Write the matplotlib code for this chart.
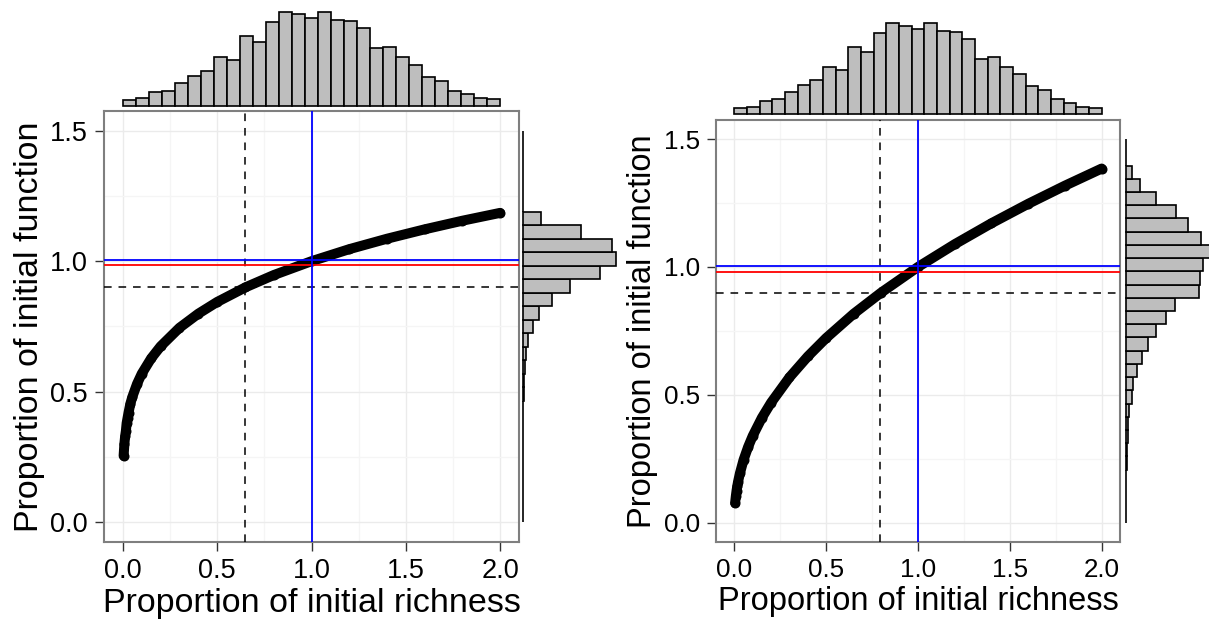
import numpy as np
import matplotlib
matplotlib.use("Agg")
import matplotlib.pyplot as plt

plt.rcParams["font.family"] = ["Liberation Sans", "DejaVu Sans"]

# curve (proportion of richness -> proportion of function)
richness_left = [0.004, 0.008, 0.012, 0.016, 0.02, 0.025, 0.03, 0.04, 0.05, 0.075, 0.1,
                 0.15, 0.2, 0.3, 0.4, 0.5, 0.65, 0.8, 1.0, 1.2, 1.4, 1.6, 1.8, 2.0]
function_left = [0.255, 0.30, 0.33, 0.35, 0.38, 0.40, 0.42, 0.455, 0.48, 0.53, 0.569,
                 0.628, 0.674, 0.745, 0.799, 0.844, 0.900, 0.947, 1.0, 1.046, 1.086, 1.122, 1.155, 1.185]

richness_right = [0.004, 0.008, 0.012, 0.016, 0.02, 0.03, 0.05, 0.075, 0.1, 0.15, 0.2,
                  0.3, 0.4, 0.5, 0.65, 0.8, 1.0, 1.2, 1.4, 1.6, 1.8, 2.0]
function_right = [0.076, 0.103, 0.125, 0.143, 0.159, 0.192, 0.245, 0.296, 0.339, 0.410, 0.469,
                  0.568, 0.650, 0.722, 0.817, 0.900, 1.0, 1.089, 1.171, 1.247, 1.318, 1.385]

# marginal histogram counts (29 bins)
richness_counts = [18, 23, 41, 46, 70, 90, 106, 146, 138, 208, 192, 250, 281, 274, 262,
                   281, 258, 253, 233, 172, 176, 147, 123, 88, 76, 46, 35, 23, 20]
function_counts_left = [0, 0, 0, 0, 0, 1, 1, 2, 2, 3, 4, 6, 10, 15, 30, 50, 88, 142,
                        233, 280, 267, 175, 54, 0, 0, 0, 0, 0, 0]
function_counts_right = [0, 1, 1, 2, 3, 5, 6, 8, 10, 20, 23, 33, 49, 68, 90, 120, 148,
                         220, 224, 231, 252, 226, 187, 150, 92, 42, 20, 0, 0]

# reference lines: (dashed x, dashed y, red y, blue y)
thresholds_left = (0.647, 0.90, 0.985, 1.005)
thresholds_right = (0.793, 0.90, 0.980, 1.005)

W, H = 1209, 622
fig = plt.figure(figsize=(W / 100, H / 100), dpi=100)


def px_axes(l, t, r, b):
    return fig.add_axes([l / W, 1 - b / H, (r - l) / W, (b - t) / H])


def main_panel(ax, xs, ys, thr, fs_lab, fs_tick):
    ax.set_xlim(-0.1, 2.1)
    ax.set_ylim(-0.075, 1.575)
    ax.set_xticks([0, 0.5, 1, 1.5, 2])
    ax.set_yticks([0, 0.5, 1, 1.5])
    ax.set_xticks([0.25, 0.75, 1.25, 1.75], minor=True)
    ax.set_yticks([0.25, 0.75, 1.25], minor=True)
    ax.set_xticklabels(["0.0", "0.5", "1.0", "1.5", "2.0"], fontsize=fs_tick)
    ax.set_yticklabels(["0.0", "0.5", "1.0", "1.5"], fontsize=fs_tick)
    ax.grid(which="major", color="#ebebeb", lw=1.0)
    ax.grid(which="minor", color="#f5f5f5", lw=1.0)
    ax.set_axisbelow(True)
    ax.tick_params(which="major", length=6.5, width=1.0, color="#333333", pad=5)
    ax.tick_params(which="minor", length=0)
    for s in ax.spines.values():
        s.set_color("#7f7f7f")
        s.set_linewidth(1.5)
    ax.plot(xs, ys, color="black", lw=7.2, solid_capstyle="round", zorder=3)
    ax.scatter(xs, ys, s=7.2 ** 2, color="black", linewidths=0, zorder=3)
    dx, dy, ry, by = thr
    ax.axvline(dx, color="black", lw=1.1, ls=(0, (5, 4.5)), zorder=4)
    ax.axhline(dy, color="black", lw=1.1, ls=(0, (5, 4.5)), zorder=4)
    ax.axhline(ry, color="red", lw=1.3, zorder=4)
    ax.axhline(by, color="blue", lw=1.3, zorder=4)
    ax.axvline(1.0, color="blue", lw=1.3, zorder=4)
    ax.set_xlabel("Proportion of initial richness", fontsize=fs_lab, labelpad=3)
    ax.set_ylabel("Proportion of initial function", fontsize=fs_lab, labelpad=4)


def top_hist(ax, counts):
    edges = np.linspace(0, 2, len(counts) + 1)
    ax.bar(edges[:-1], counts, width=edges[1] - edges[0], align="edge",
           color="#bebebe", edgecolor="black", lw=1.2, clip_on=False)
    ax.set_xlim(-0.1, 2.1)
    ax.set_ylim(0, max(counts))
    ax.axis("off")


def side_hist(ax, counts, xmax):
    edges = np.linspace(0, 1.5, len(counts) + 1)
    ax.barh(edges[:-1], counts, height=edges[1] - edges[0], align="edge",
            color="#bebebe", edgecolor="black", lw=1.2, clip_on=False)
    ax.set_ylim(-0.075, 1.575)
    ax.set_xlim(0, xmax)
    ax.axis("off")


# left panel
ax1 = px_axes(104, 111, 519, 542)
main_panel(ax1, richness_left, function_left, thresholds_left, 24.5, 19.5)
top_hist(px_axes(104, 12, 519, 106), richness_counts)
side_hist(px_axes(522.7, 111, 617.7, 542), function_counts_left, 285)

# right panel
ax2 = px_axes(716, 120, 1120, 541.7)
main_panel(ax2, richness_right, function_right, thresholds_right, 23.5, 18.7)
top_hist(px_axes(716, 23.3, 1120, 114.3), richness_counts)
side_hist(px_axes(1125.5, 120, 1209, 541.7), function_counts_right, 250.5)

fig.savefig("out.png", dpi=100)
